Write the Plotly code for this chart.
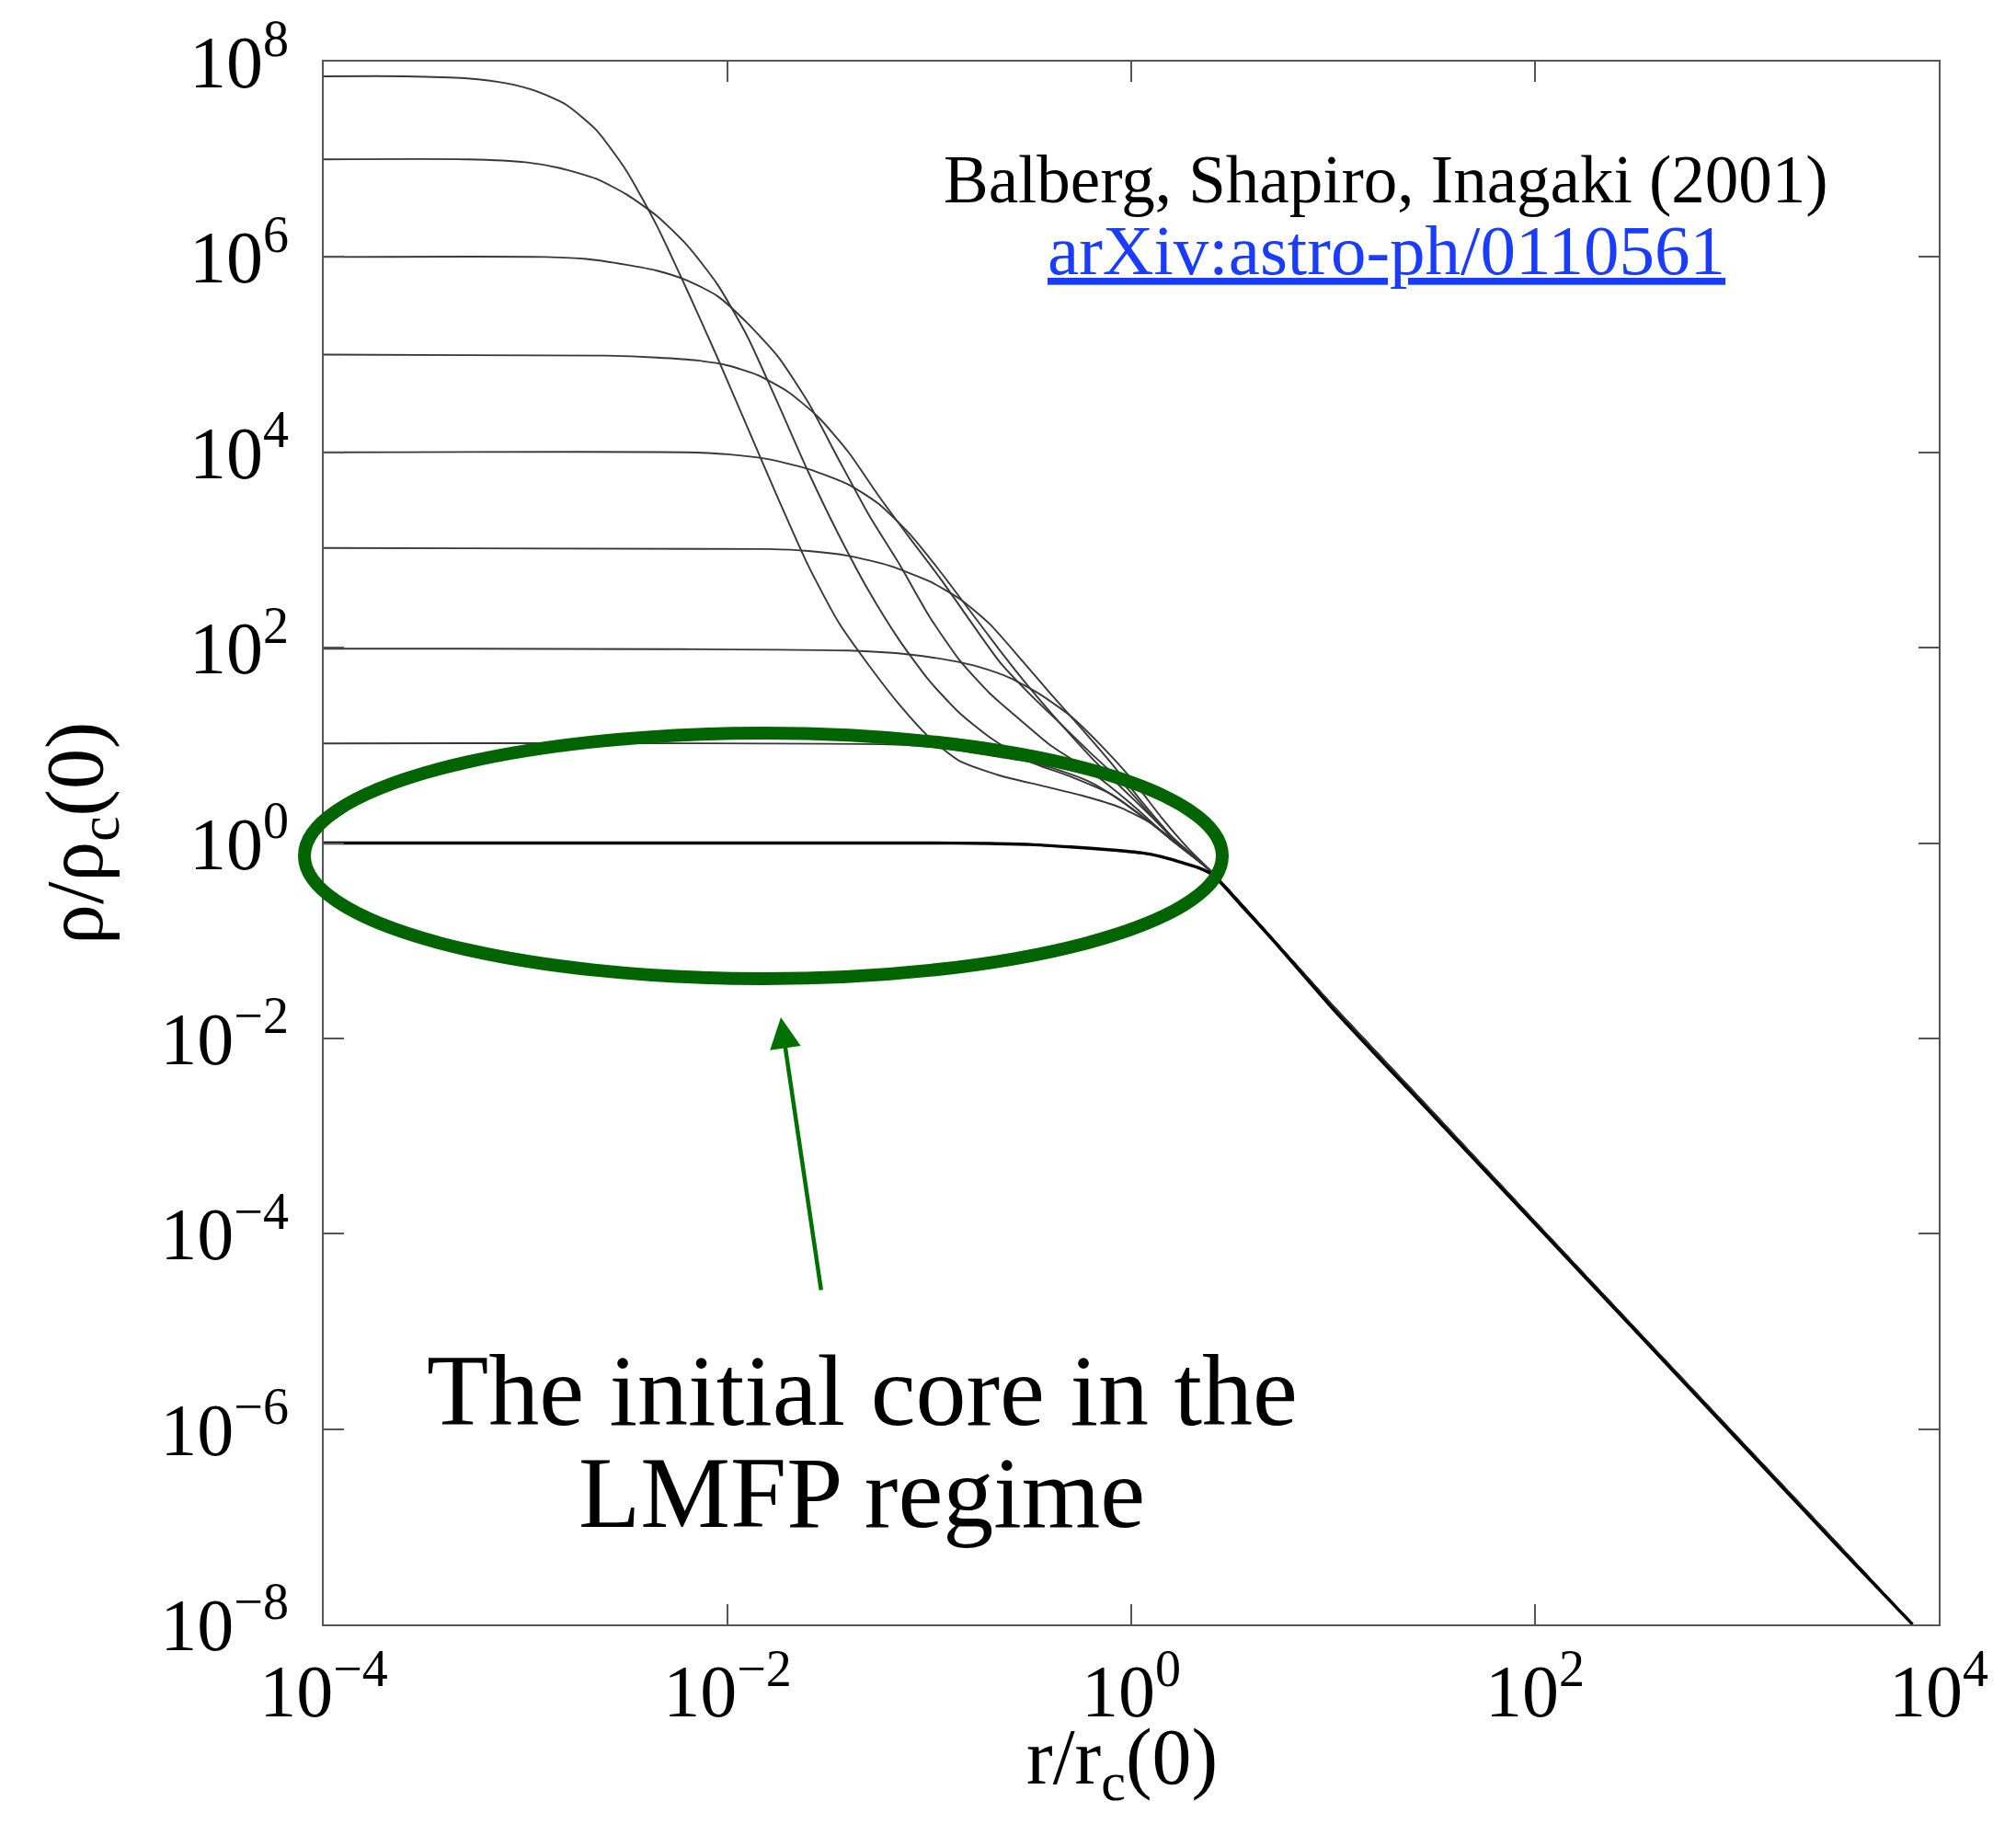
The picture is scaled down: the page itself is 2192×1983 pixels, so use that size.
import numpy as np
import plotly.graph_objects as go

# ---- data (log10 values) ----
plateaus = ["7.85", "7", "6", "5", "4", "3", "2", "1", "0"]

logr_c1 = [-4.0, -3.6, -3.3, -3.1, -2.95, -2.8, -2.65, -2.5, -2.35, -2.2, -2.05, -1.9, -1.75, -1.6, -1.45, -1.3, -1.15, -1.0, -0.85, -0.65, -0.45, -0.25, -0.05, 0.1, 0.25, 0.4, 0.7, 1.0, 1.5, 2.0, 2.5, 3.0, 3.5, 3.87]
logrho_c1 = [7.85, 7.85, 7.83, 7.78, 7.70, 7.56, 7.30, 6.88, 6.32, 5.66, 4.97, 4.25, 3.53, 2.84, 2.26, 1.82, 1.42, 1.08, 0.84, 0.69, 0.59, 0.49, 0.36, 0.20, -0.05, -0.30, -0.98, -1.67, -2.77, -3.88, -4.98, -6.08, -7.18, -8.0]

logr_c2 = [-4.0, -3.3, -3.0, -2.83, -2.65, -2.5, -2.35, -2.2, -2.05, -1.9, -1.75, -1.6, -1.45, -1.3, -1.15, -1.0, -0.85, -0.7, -0.5, -0.3, -0.1, 0.05, 0.2, 0.4, 0.7, 1.0, 1.5, 2.0, 2.5, 3.0, 3.5, 3.87]
logrho_c2 = [7.0, 7.0, 6.97, 6.91, 6.80, 6.64, 6.42, 6.12, 5.72, 5.18, 4.50, 3.80, 3.16, 2.58, 2.08, 1.66, 1.33, 1.08, 0.83, 0.68, 0.50, 0.28, 0.03, -0.30, -0.98, -1.67, -2.77, -3.88, -4.98, -6.08, -7.18, -8.0]

logr_c3 = [-4.0, -2.9, -2.7, -2.5, -2.35, -2.2, -2.05, -1.9, -1.75, -1.6, -1.45, -1.3, -1.15, -1.0, -0.85, -0.7, -0.55, -0.4, -0.2, 0.0, 0.2, 0.4, 0.7, 1.0, 1.5, 2.0, 2.5, 3.0, 3.5, 3.87]
logrho_c3 = [6.0, 6.0, 5.98, 5.92, 5.86, 5.76, 5.60, 5.32, 4.98, 4.51, 3.93, 3.36, 2.86, 2.32, 1.87, 1.53, 1.26, 1.00, 0.73, 0.40, 0.03, -0.30, -0.98, -1.67, -2.77, -3.88, -4.98, -6.08, -7.18, -8.0]

logr_c4 = [-4.0, -2.6, -2.35, -2.15, -2.0, -1.85, -1.7, -1.55, -1.4, -1.25, -1.1, -0.95, -0.8, -0.65, -0.5, -0.35, -0.2, -0.05, 0.1, 0.25, 0.4, 0.7, 1.0, 1.5, 2.0, 2.5, 3.0, 3.5, 3.87]
logrho_c4 = [5.0, 4.99, 4.97, 4.94, 4.89, 4.79, 4.62, 4.36, 4.00, 3.55, 3.13, 2.72, 2.28, 1.85, 1.52, 1.22, 0.92, 0.63, 0.28, -0.04, -0.30, -0.98, -1.67, -2.77, -3.88, -4.98, -6.08, -7.18, -8.0]

logr_c5 = [-4.0, -2.2, -2.0, -1.8, -1.6, -1.4, -1.25, -1.1, -0.95, -0.8, -0.65, -0.5, -0.35, -0.2, -0.05, 0.1, 0.25, 0.4, 0.7, 1.0, 1.5, 2.0, 2.5, 3.0, 3.5, 3.87]
logrho_c5 = [4.0, 4.0, 3.98, 3.93, 3.83, 3.67, 3.47, 3.17, 2.79, 2.38, 1.97, 1.58, 1.22, 0.88, 0.57, 0.27, -0.04, -0.30, -0.98, -1.67, -2.77, -3.88, -4.98, -6.08, -7.18, -8.0]

logr_c6 = [-4.0, -1.8, -1.6, -1.4, -1.2, -1.0, -0.85, -0.7, -0.55, -0.4, -0.25, -0.1, 0.05, 0.2, 0.4, 0.7, 1.0, 1.5, 2.0, 2.5, 3.0, 3.5, 3.87]
logrho_c6 = [3.02, 3.01, 2.99, 2.94, 2.84, 2.68, 2.50, 2.24, 1.89, 1.53, 1.18, 0.82, 0.43, 0.07, -0.30, -0.98, -1.67, -2.77, -3.88, -4.98, -6.08, -7.18, -8.0]

logr_c7 = [-4.0, -1.4, -1.1, -0.9, -0.75, -0.6, -0.45, -0.3, -0.15, 0.0, 0.15, 0.28, 0.4, 0.7, 1.0, 1.5, 2.0, 2.5, 3.0, 3.5, 3.87]
logrho_c7 = [1.99, 1.97, 1.93, 1.87, 1.80, 1.69, 1.52, 1.30, 1.00, 0.66, 0.26, -0.05, -0.30, -0.98, -1.67, -2.77, -3.88, -4.98, -6.08, -7.18, -8.0]

logr_c8 = [-4.0, -1.2, -0.95, -0.8, -0.65, -0.5, -0.35, -0.2, -0.05, 0.1, 0.25, 0.4, 0.7, 1.0, 1.5, 2.0, 2.5, 3.0, 3.5, 3.87]
logrho_c8 = [1.02, 1.01, 0.98, 0.93, 0.88, 0.83, 0.74, 0.62, 0.43, 0.20, -0.03, -0.30, -0.98, -1.67, -2.77, -3.88, -4.98, -6.08, -7.18, -8.0]

logr_c9 = [-4.0, -1.0, -0.7, -0.5, -0.3, -0.1, 0.05, 0.15, 0.25, 0.33, 0.4, 0.55, 0.7, 1.0, 1.5, 2.0, 2.5, 3.0, 3.5, 3.87]
logrho_c9 = [0.0, 0.0, -0.005, -0.015, -0.04, -0.07, -0.10, -0.14, -0.20, -0.25, -0.32, -0.65, -0.99, -1.70, -2.80, -3.90, -5.00, -6.10, -7.20, -8.0]

curves = [
    (logr_c1, logrho_c1), (logr_c2, logrho_c2), (logr_c3, logrho_c3),
    (logr_c4, logrho_c4), (logr_c5, logrho_c5), (logr_c6, logrho_c6),
    (logr_c7, logrho_c7), (logr_c8, logrho_c8), (logr_c9, logrho_c9),
]

x_tick_exp = [-4, -2, 0, 2, 4]
y_tick_exp = [-8, -6, -4, -2, 0, 2, 4, 6, 8]


def tick_text(e):
    s = str(e).replace("-", "\u2212")
    return "10<sup>" + s + "</sup>"


SERIF = "Liberation Serif, Times New Roman, serif"
GREEN = "#006400"

fig = go.Figure()
for i, (lr, lrho) in enumerate(curves):
    last = (i == len(curves) - 1)
    fig.add_trace(go.Scatter(
        x=10 ** np.array(lr), y=10 ** np.array(lrho),
        mode="lines",
        line=dict(color="#000000" if last else "#383838",
                  width=3.4 if last else 1.9,
                  shape="spline", smoothing=0.6),
        name=plateaus[i], showlegend=False, hoverinfo="skip"))

# the page body has an 8 px margin: figure is 16 px smaller than the window
OFF = 8
W, H = 2192 - 2 * OFF, 1983 - 2 * OFF
# plot-area edges in window pixels
L, R, T, B = 352, 2108, 67, 1766


def px(xp):
    return (xp - L) / (R - L)


def py(yp):
    return (B - yp) / (B - T)


axis_common = dict(
    type="log", showgrid=False, zeroline=False, automargin=False,
    showline=True, linecolor="#555555", linewidth=2.2, mirror="ticks",
    ticks="inside", ticklen=22, tickwidth=2, tickcolor="#555555",
    tickfont=dict(family=SERIF, size=80, color="black"),
)

fig.update_layout(
    width=W, height=H,
    margin=dict(l=L - OFF, r=W - (R - OFF), t=T - OFF, b=H - (B - OFF), pad=0),
    paper_bgcolor="white", plot_bgcolor="white",
    xaxis=dict(axis_common, range=[-4, 4],
               tickvals=[10.0 ** e for e in x_tick_exp],
               ticktext=[tick_text(e) for e in x_tick_exp],
               ticklabelstandoff=2),
    yaxis=dict(axis_common, range=[-8, 8],
               tickvals=[10.0 ** e for e in y_tick_exp],
               ticktext=[tick_text(e) for e in y_tick_exp],
               ticklabelstandoff=20),
    showlegend=False,
)

# green ellipse
fig.add_shape(type="circle", xref="paper", yref="paper",
              x0=px(331), x1=px(1329), y0=py(1064), y1=py(797),
              line=dict(color=GREEN, width=14), layer="above")

annotations = [
    dict(x=px(1220), y=py(1916), xref="paper", yref="paper",
         text="r/r<sub>c</sub>(0)", showarrow=False,
         xanchor="center", yanchor="middle", borderpad=0,
         font=dict(family=SERIF, size=86, color="black")),
    dict(x=px(87), y=py(906), xref="paper", yref="paper",
         text="\u03c1/\u03c1<sub>c</sub>(0)", showarrow=False, textangle=-90,
         xanchor="center", yanchor="middle",
         font=dict(family=SERIF, size=88, color="black")),
    dict(x=px(1507), y=py(195), xref="paper", yref="paper",
         text="Balberg, Shapiro, Inagaki (2001)", showarrow=False,
         xanchor="center", yanchor="middle",
         font=dict(family=SERIF, size=73, color="black")),
    dict(x=px(1507), y=py(272), xref="paper", yref="paper",
         text="<u>arXiv:astro-ph/0110561</u>", showarrow=False,
         xanchor="center", yanchor="middle",
         font=dict(family=SERIF, size=77, color="#1a3cff")),
    dict(x=px(937), y=py(1512), xref="paper", yref="paper",
         text="The initial core in the", showarrow=False,
         xanchor="center", yanchor="middle",
         font=dict(family=SERIF, size=110, color="black")),
    dict(x=px(937), y=py(1623), xref="paper", yref="paper",
         text="LMFP regime", showarrow=False,
         xanchor="center", yanchor="middle",
         font=dict(family=SERIF, size=110, color="black")),
    dict(x=px(849), y=py(1106), xref="paper", yref="paper",
         text="", showarrow=True, ax=44, ay=298,
         axref="pixel", ayref="pixel",
         arrowhead=2, arrowsize=1.5, arrowwidth=4.5, arrowcolor="#007000"),
]
fig.update_layout(annotations=annotations)

fig.write_html("out.html")
